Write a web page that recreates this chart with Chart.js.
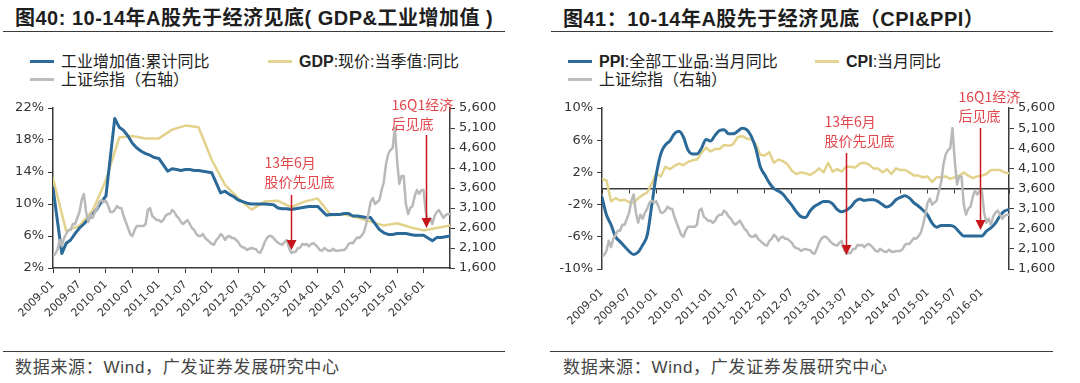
<!DOCTYPE html>
<html>
<head>
<meta charset="utf-8">
<script src="https://cdn.jsdelivr.net/npm/chart.js@4.4.1/dist/chart.umd.min.js"></script>
<style>
body { margin:0; width:1080px; height:383px; background:#fff; position:relative; overflow:hidden;
       font-family:"Liberation Sans","Noto Sans CJK SC",sans-serif; color:#222; }
.abs { position:absolute; white-space:nowrap; }
.title { font-size:20px; font-weight:bold; color:#1e1e1e; line-height:24px; letter-spacing:0.5px; }
.rule { position:absolute; height:0; border-top:1.5px solid #3a3a3a; }
.legend { font-size:16px; line-height:18px; color:#222; }
.legend b { font-weight:bold; }
.legend i { display:inline-block; width:24px; height:3px; vertical-align:middle; margin-right:7px; position:relative; top:-1px; }
.source { font-size:17px; line-height:20px; color:#444; letter-spacing:0.7px; }
canvas { position:absolute; }
</style>
</head>
<body>
<div class="abs title" style="left:15px;top:6px;">图40: 10-14年A股先于经济见底( GDP&amp;工业增加值 )</div>
<div class="rule" style="left:3px;top:31px;width:502px;"></div>
<div class="abs title" style="left:563px;top:7px;">图41：10-14年A股先于经济见底（CPI&amp;PPI）</div>
<div class="rule" style="left:551px;top:31px;width:502px;"></div>

<div class="abs legend" style="left:30px;top:53px;"><i style="background:#2e6b9b"></i>工业增加值:累计同比</div>
<div class="abs legend" style="left:268px;top:53px;"><i style="background:#e4d492"></i><b>GDP</b>:现价:当季值:同比</div>
<div class="abs legend" style="left:30px;top:71px;"><i style="background:#bdbdbd"></i>上证综指（右轴）</div>

<div class="abs legend" style="left:568px;top:53px;"><i style="background:#2e6b9b"></i><b>PPI</b>:全部工业品:当月同比</div>
<div class="abs legend" style="left:815px;top:53px;"><i style="background:#e4d492"></i><b>CPI</b>:当月同比</div>
<div class="abs legend" style="left:568px;top:71px;"><i style="background:#bdbdbd"></i>上证综指（右轴）</div>

<canvas id="c1" width="520" height="260" style="left:0;top:90px;"></canvas>
<canvas id="c2" width="540" height="260" style="left:540px;top:90px;"></canvas>

<div class="rule" style="left:3px;top:351px;width:502px;"></div>
<div class="abs source" style="left:15px;top:358px;">数据来源：Wind，广发证券发展研究中心</div>
<div class="rule" style="left:550px;top:351px;width:503px;"></div>
<div class="abs source" style="left:563px;top:358px;">数据来源：Wind，广发证券发展研究中心</div>

<script>
// 月度数据：2008-12 到 2016-06（1月无累计值）
const firstMonth = [2008, 12];
const indValueAdded = [
  12.0,
  null, 3.8, 5.1, 5.5, 6.3, 7.0, 7.5, 8.1, 8.7, 9.4, 10.3, 11.0,
  null, 20.7, 19.6, 19.2, 18.5, 17.6, 17.0, 16.6, 16.3, 16.1, 15.8, 15.7,
  null, 14.1, 14.4, 14.3, 14.2, 14.3, 14.3, 14.2, 14.2, 14.1, 14.0, 13.9,
  null, 11.4, 11.6, 11.2, 10.9, 10.5, 10.3, 10.1, 10.0, 10.0, 10.0, 10.0,
  null, 9.9, 9.5, 9.4, 9.4, 9.3, 9.4, 9.5, 9.6, 9.7, 9.7, 9.7,
  null, 8.6, 8.7, 8.7, 8.7, 8.8, 8.8, 8.5, 8.5, 8.4, 8.3, 8.3,
  null, 6.8, 6.4, 6.2, 6.2, 6.3, 6.3, 6.3, 6.2, 6.1, 6.1, 6.1,
  null, 5.4, 5.8, 5.8, 5.9, 6.0
];
const ppi = [
  -1.1,
  -3.3, -4.5, -6.0, -6.6, -7.2, -7.8, -8.2, -7.9, -7.0, -5.8, -2.1, 1.7,
  4.3, 5.4, 5.9, 6.8, 7.1, 6.4, 4.8, 4.3, 4.3, 5.0, 6.1, 5.9,
  6.6, 7.2, 7.3, 6.8, 6.8, 7.1, 7.5, 7.3, 6.5, 5.0, 2.7, 1.7,
  0.7, 0.0, -0.3, -0.7, -1.4, -2.1, -2.9, -3.5, -3.6, -2.8, -2.2, -1.9,
  -1.6, -1.6, -1.9, -2.6, -2.9, -2.7, -2.3, -1.6, -1.3, -1.5, -1.4, -1.4,
  -1.6, -2.0, -2.3, -2.0, -1.4, -1.1, -0.9, -1.2, -1.8, -2.2, -2.7, -3.3,
  -4.3, -4.8, -4.6, -4.6, -4.6, -4.8, -5.4, -5.9, -5.9, -5.9, -5.9, -5.9,
  -5.3, -4.9, -4.3, -3.4, -2.8, -2.6
];
const cpi = [
  1.2,
  1.0, -1.6, -1.2, -1.5, -1.4, -1.7, -1.8, -1.2, -0.8, -0.5, 0.6, 1.9,
  1.5, 2.7, 2.4, 2.8, 3.1, 2.9, 3.3, 3.5, 3.6, 4.4, 5.1, 4.6,
  4.9, 4.9, 5.4, 5.3, 5.5, 6.4, 6.5, 6.2, 6.1, 5.5, 4.2, 4.1,
  4.5, 3.2, 3.6, 3.4, 3.0, 2.2, 1.8, 2.0, 1.9, 1.7, 2.0, 2.5,
  2.0, 3.2, 2.1, 2.4, 2.1, 2.7, 2.7, 2.6, 3.1, 3.2, 3.0, 2.5,
  2.5, 2.0, 2.4, 1.8, 2.5, 2.3, 2.3, 2.0, 1.6, 1.6, 1.4, 1.5,
  0.8, 1.4, 1.4, 1.5, 1.2, 1.4, 1.6, 2.0, 1.6, 1.3, 1.5, 1.6,
  1.8, 2.3, 2.3, 2.3, 2.0, 1.9
];

// 季度：2008Q4 到 2016Q2
const firstQuarter = [2008, 4];
const gdpNominal = [
  13.2,
  6.6, 7.3, 9.2, 13.0,
  18.3, 18.5, 18.2, 18.2,
  19.3, 19.8, 19.6, 15.5,
  12.4, 10.7, 9.3, 10.3,
  10.4, 9.6, 10.3, 10.7,
  8.6, 8.7, 8.3, 7.8,
  7.3, 7.6, 7.1, 6.7,
  7.0, 7.3
];

// 上证综指，半月一个点，从2008年12月底到2016年6月底
const sse = [
  1900,
  1950, 2050, 2300, 2150, 2350, 2450, 2550, 2550, 2700, 2700, 2850, 3000,
  3300, 3450, 3000, 2750, 2950, 2850, 3000, 3100, 3250, 3300, 3250, 3280,
  3150, 3000, 3000, 3050, 3150, 3100, 3100, 2900, 2750, 2600, 2450, 2400,
  2550, 2650, 2650, 2650, 2650, 2700, 3050, 3100, 2900, 2850, 2800, 2800,
  2750, 2800, 2900, 2950, 2950, 3050, 3000, 2900, 2850, 2750, 2700, 2750,
  2800, 2700, 2600, 2550, 2450, 2400, 2400, 2450, 2350, 2300, 2250, 2200,
  2180, 2300, 2350, 2450, 2400, 2300, 2380, 2400, 2350, 2350, 2300, 2250,
  2150, 2120, 2100, 2050, 2080, 2100, 2080, 2070, 2000, 1980, 2100, 2250,
  2350, 2400, 2400, 2350, 2280, 2230, 2200, 2180, 2250, 2300, 2100, 1980,
  2000, 2000, 2100, 2100, 2200, 2180, 2200, 2140, 2200, 2220, 2180, 2120,
  2050, 2030, 2100, 2060, 2030, 2030, 2080, 2030, 2030, 2040, 2050, 2050,
  2100, 2200, 2230, 2220, 2300, 2370, 2350, 2420, 2500, 2700, 2950, 3250,
  3350, 3200, 3250, 3300, 3550, 3750, 4200, 4450, 4550, 4600, 5100, 4300,
  3700, 3900, 3900, 3200, 2950, 3100, 3150, 3400, 3550, 3450, 3550, 3550,
  3000, 2750, 2850, 2700, 2900, 3000, 3050, 2950, 2850, 2920, 2950, 2950
];

// 箭头标注（x为月份序号，纵向取右轴数值）
const annotLeft = [
  { x: 54, from: 3425, to: 2050, text: 4225, dx: -27, lines: ['13年6月', '股价先见底'] },
  { x: 84.5, from: 4925, to: 2600, text: 5675, dx: -35, lines: ['16Q1经济', '后见底'] }
];
const annotRight = [
  { x: 54, from: 4482, to: 1948, text: 5252, dx: -22, lines: ['13年6月', '股价先见底'] },
  { x: 83.6, from: 5103, to: 2569, text: 5873, dx: -22, lines: ['16Q1经济', '后见底'] }
];

// x 轴：从2009-01起的月数，每月数据点放在月底
function monthlyPoints(values) {
  return values.map((v, i) => {
    const idx = (firstMonth[0] - 2009) * 12 + firstMonth[1] + i;
    return { x: idx, y: v };
  });
}
function quarterlyPoints(values) {
  return values.map((v, i) => {
    const q = (firstQuarter[0] - 2009) * 4 + firstQuarter[1] + i;
    return { x: q * 3, y: v };
  });
}
function halfMonthPoints(values) {
  return values.map((v, i) => ({ x: i / 2, y: v }));
}

function tickLabel(v) {
  if (v % 6 !== 0 || v >= 90) return null;
  const y = 2009 + Math.floor(v / 12);
  return y + (v % 12 === 0 ? '-01' : '-07');
}

const arrowPlugin = {
  id: 'arrows',
  afterDatasetsDraw(chart) {
    const items = chart.$annots || [];
    const ctx = chart.ctx;
    const xs = chart.scales.x, ys = chart.scales.y1;
    items.forEach(a => {
      const x = Math.round(xs.getPixelForValue(a.x)) + 0.5;
      const yTop = ys.getPixelForValue(a.from), yTip = ys.getPixelForValue(a.to);
      ctx.save();
      ctx.strokeStyle = '#c8161d';
      ctx.fillStyle = '#c8161d';
      ctx.lineWidth = 1.5;
      ctx.beginPath();
      ctx.moveTo(x, yTop);
      ctx.lineTo(x, yTip - 8);
      ctx.stroke();
      ctx.beginPath();
      ctx.moveTo(x - 5, yTip - 10);
      ctx.lineTo(x + 5, yTip - 10);
      ctx.lineTo(x, yTip);
      ctx.closePath();
      ctx.fill();
      ctx.fillStyle = '#e2474c';
      ctx.font = '14px "Noto Sans CJK SC"';
      ctx.textBaseline = 'middle';
      a.lines.forEach((t, i) => ctx.fillText(t, x + a.dx, ys.getPixelForValue(a.text) + i * 19));
      ctx.restore();
    });
  }
};

const tickFont = { family: '"DejaVu Sans"', size: 13 };
const xFont = { family: '"DejaVu Sans"', size: 11 };
const axisColor = '#3a3a3a';

function baseX(withLine) {
  return {
    type: 'linear', min: 0, max: 90,
    ticks: { stepSize: 6, autoSkip: false, maxRotation: 45, minRotation: 45, color: '#333',
             font: xFont, padding: withLine ? 5 : 12, callback: tickLabel },
    grid: { display: withLine, drawOnChartArea: false, tickLength: 5, color: axisColor },
    border: { display: withLine, color: axisColor, width: 1.5 }
  };
}
function sseAxis(width) {
  return {
    position: 'right', min: 1600, max: 5600,
    ticks: { stepSize: 500, color: '#333', font: tickFont, padding: 4,
             callback: v => v.toLocaleString('en-US') },
    grid: { drawOnChartArea: false, tickLength: 5, color: axisColor },
    border: { color: axisColor, width: 1.5 },
    afterFit: s => { s.width = width; }
  };
}

const common = {
  responsive: false,
  animation: false,
  elements: { point: { radius: 0 }, line: { tension: 0, borderCapStyle: 'round', borderJoinStyle: 'round' } },
  plugins: { legend: { display: false }, tooltip: { enabled: false } }
};

const chart1 = new Chart(document.getElementById('c1'), {
  type: 'line',
  data: {
    datasets: [
      { label: '上证综指（右轴）', data: halfMonthPoints(sse), yAxisID: 'y1',
        borderColor: '#b9b9b9', borderWidth: 2.5, order: 0 },
      { label: '工业增加值:累计同比', data: monthlyPoints(indValueAdded), yAxisID: 'y',
        borderColor: '#2b6a98', borderWidth: 3, spanGaps: true, order: 1 },
      { label: 'GDP:现价:当季值:同比', data: quarterlyPoints(gdpNominal), yAxisID: 'y',
        borderColor: '#e3d28c', borderWidth: 2.5, order: 2 }
    ]
  },
  options: Object.assign({}, common, {
    layout: { padding: { top: 18, left: 0, right: 0, bottom: 0 } },
    scales: {
      x: Object.assign(baseX(true), { afterFit: s => { s.height = 82; } }),
      y: {
        position: 'left', min: 2, max: 22,
        ticks: { stepSize: 4, color: '#333', font: tickFont, padding: 4, callback: v => v + '%' },
        grid: { drawOnChartArea: false, tickLength: 5, color: axisColor },
        border: { color: axisColor, width: 1.5 },
        afterFit: s => { s.width = 53; }
      },
      y1: sseAxis(70)
    }
  }),
  plugins: [arrowPlugin]
});
chart1.$annots = annotLeft;
chart1.draw();

const chart2 = new Chart(document.getElementById('c2'), {
  type: 'line',
  data: {
    datasets: [
      { label: '上证综指（右轴）', data: halfMonthPoints(sse), yAxisID: 'y1',
        borderColor: '#b9b9b9', borderWidth: 2.5, order: 0 },
      { label: 'PPI:全部工业品:当月同比', data: monthlyPoints(ppi), yAxisID: 'y',
        borderColor: '#2b6a98', borderWidth: 3, cubicInterpolationMode: 'monotone', order: 1 },
      { label: 'CPI:当月同比', data: monthlyPoints(cpi), yAxisID: 'y',
        borderColor: '#e3d28c', borderWidth: 2.5, order: 2 }
    ]
  },
  options: Object.assign({}, common, {
    layout: { padding: { top: 18, left: 0, right: 0, bottom: 0 } },
    scales: {
      x: Object.assign(baseX(false), { afterFit: s => { s.height = 81; } }),
      x0: {
        type: 'linear', min: 0, max: 90, position: { y: 0 },
        ticks: { stepSize: 6, display: false },
        grid: { drawOnChartArea: false, tickLength: 4, color: axisColor },
        border: { color: axisColor, width: 1.5 }
      },
      y: {
        position: 'left', min: -10, max: 10,
        ticks: { stepSize: 4, color: '#333', font: tickFont, padding: 4, callback: v => v + '%' },
        grid: { drawOnChartArea: false, tickLength: 5, color: axisColor },
        border: { color: axisColor, width: 1.5 },
        afterFit: s => { s.width = 62; }
      },
      y1: sseAxis(71)
    }
  }),
  plugins: [arrowPlugin]
});
chart2.$annots = annotRight;
chart2.draw();
</script>
</body>
</html>
